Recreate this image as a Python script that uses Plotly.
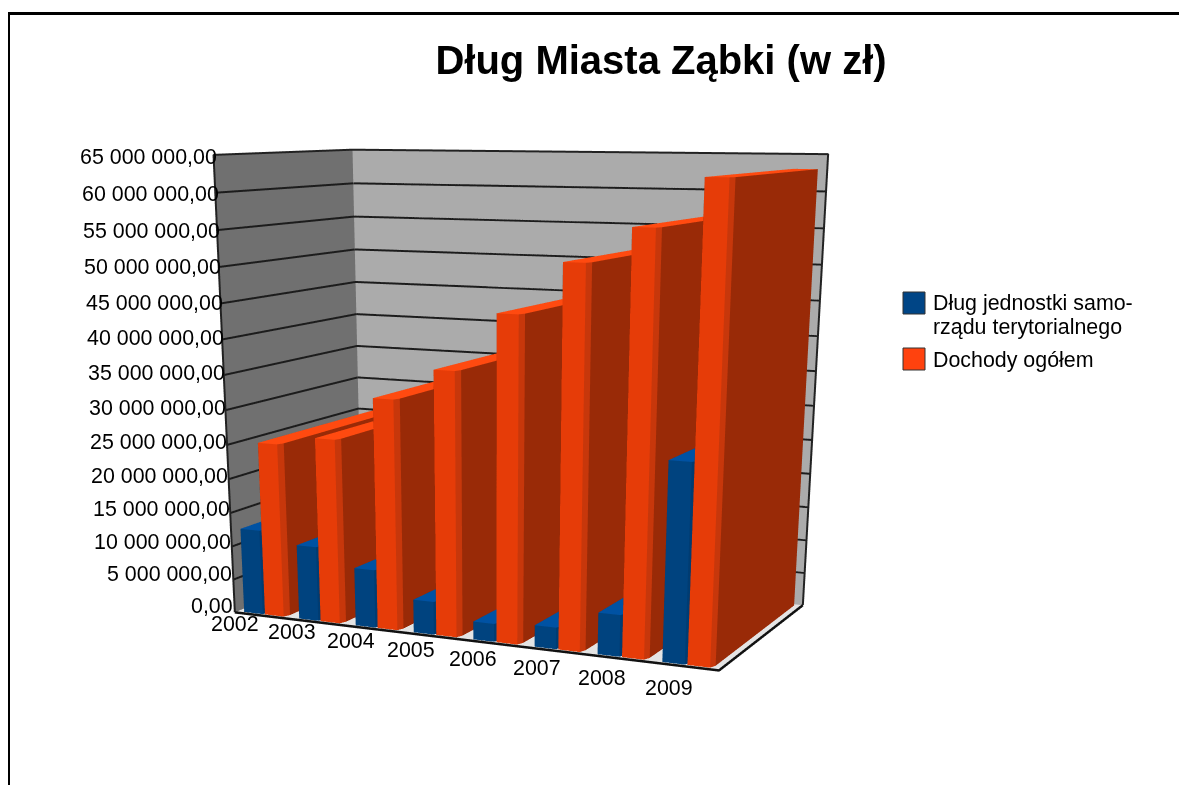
import plotly.graph_objects as go

years = ["2002","2003","2004","2005","2006","2007","2008","2009"]
debt = [12.6e6, 11.0e6, 8.5e6, 4.8e6, 2.6e6, 3.1e6, 5.9e6, 27.5e6]
income = [25.5e6, 26.8e6, 33.0e6, 37.4e6, 45.3e6, 52.2e6, 56.8e6, 63.0e6]
zticks = list(range(0, 65000001, 5000000))
zlabels = [f"{v//1000000} 000 000,00" if v else "0,00" for v in zticks]

# The reference is a taller page cropped by the window; the tall canvas gives its flatter perspective.
FW = 1179
FH = 1600
def PX(x): return (x - 8) / FW
def PY(y): return 1 - (y - 8) / FH

W, Dp = 1.1705, 0.6156
eye = dict(x=1.7747, y=-4.0023, z=0.5915)
center = dict(x=0.0337, y=-0.2304, z=-0.9116)
x0 = 492.3
half = min(x0 - 8, 1187 - x0)
dom = [PX(x0 - half), PX(x0 + half)]

def prism(xa, xb, ya, yb, top, cols, cx, cy):
    pts = [(xa, ya), (xb - cx, ya), (xb, ya + cy), (xb, yb), (xa, yb)]
    n = len(pts)
    X = [p[0] for p in pts] * 2
    Y = [p[1] for p in pts] * 2
    Z = [0] * n + [top] * n
    I, J, K, FC = [], [], [], []
    sidecol = [cols["front"], cols["bevel"], cols["side"], cols["side"], cols["side"]]
    for a in range(n):
        b = (a + 1) % n
        I += [a, a]; J += [b, b + n]; K += [b + n, a + n]; FC += [sidecol[a]] * 2
    for a in range(1, n - 1):
        I.append(n); J.append(n + a); K.append(n + a + 1); FC.append(cols["top"])
    return X, Y, Z, I, J, K, FC

def series(vals, xa, xb, cols, name):
    X, Y, Z, I, J, K, FC = [], [], [], [], [], [], []
    for i, v in enumerate(vals):
        x, y, z, a, b, c, fc = prism(i + xa, i + xb, 0.02, 0.98, v, cols, 0.04, 0.03)
        o = len(X)
        X += x; Y += y; Z += z
        I += [q + o for q in a]; J += [q + o for q in b]; K += [q + o for q in c]; FC += fc
    return go.Mesh3d(x=X, y=Y, z=Z, i=I, j=J, k=K, facecolor=FC, flatshading=True, name=name, hoverinfo="skip",
                     lighting=dict(ambient=1, diffuse=0, specular=0, fresnel=0, roughness=1))

blue = dict(front="#00437f", bevel="#003c72", side="#003566", top="#0052a3")
orange = dict(front="#e63c08", bevel="#c7370b", side="#992a07", top="#ff4a10")
nx = len(years)
zmax = zticks[-1]

fig = go.Figure()
fig.add_trace(series(debt, .12, .5, blue, "Dług jednostki samorządu terytorialnego"))
fig.add_trace(series(income, .5, .88, orange, "Dochody ogółem"))
gx, gy, gz = [], [], []
for v in zticks[1:-1]:
    gx += [0, 0, nx, None]; gy += [0, 1, 1, None]; gz += [v, v, v, None]
fig.add_trace(go.Scatter3d(x=gx, y=gy, z=gz, mode="lines", line=dict(color="#1c1c1c", width=4), hoverinfo="skip", showlegend=False))
fig.add_trace(go.Scatter3d(x=[0, 0, 0, nx, nx], y=[0, 0, 1, 1, 1], z=[0, zmax, zmax, zmax, 0], mode="lines", line=dict(color="#222", width=4), hoverinfo="skip", showlegend=False))
fig.add_trace(go.Scatter3d(x=[0, nx, nx], y=[0, 0, 1], z=[0, 0, 0], mode="lines", line=dict(color="#111", width=5), hoverinfo="skip", showlegend=False))

ann = [dict(x=0, y=0, z=v, text=t, showarrow=False, xanchor="right", xshift=6 * v / zmax, yshift=6 - 8 * v / zmax,
            font=dict(size=21.4, color="black")) for v, t in zip(zticks, zlabels)]
ann += [dict(x=i + .5, y=0, z=0, text=t, showarrow=False, xshift=-27 + i * 1.6, yshift=-8 - i * 1.9,
             font=dict(size=21.4, color="black")) for i, t in enumerate(years)]

def ax(rng, **k):
    return dict(range=rng, showticklabels=False, ticks="", title=dict(text=""), showspikes=False,
                zeroline=False, showline=False, showgrid=False, **k)

fig.update_layout(
    width=FW, height=FH, margin=dict(l=0, r=0, t=0, b=0), paper_bgcolor="white", showlegend=False,
    font=dict(family="Liberation Sans", color="black"),
    title=dict(text="<b>Dług Miasta Ząbki (w zł)</b>", x=PX(661), xanchor="center", y=PY(60), yanchor="middle",
               font=dict(size=40, color="black")),
    scene=dict(domain=dict(x=dom, y=[0, 1]), aspectmode="manual", aspectratio=dict(x=W, y=Dp, z=1),
               camera=dict(eye=eye, center=center, up=dict(x=0, y=0, z=1)),
               xaxis=ax([0, nx], showbackground=True, backgroundcolor="#707070"),
               yaxis=ax([0, 1], showbackground=True, backgroundcolor="#ababab"),
               zaxis=ax([0, zmax], tickvals=zticks, showbackground=True, backgroundcolor="#e4e4e4"),
               annotations=ann),
    shapes=[dict(type="line", xref="paper", yref="paper", x0=PX(8.5), x1=PX(8.5), y0=0, y1=PY(13.5), line=dict(color="black", width=3)),
            dict(type="line", xref="paper", yref="paper", x0=PX(7), x1=1, y0=PY(13.5), y1=PY(13.5), line=dict(color="black", width=3)),
            dict(type="rect", xref="paper", yref="paper", x0=PX(903), x1=PX(925), y0=PY(314), y1=PY(292), fillcolor="#004586", line=dict(color="#333", width=1)),
            dict(type="rect", xref="paper", yref="paper", x0=PX(903), x1=PX(925), y0=PY(370), y1=PY(348), fillcolor="#ff420e", line=dict(color="#333", width=1))],
    annotations=[dict(xref="paper", yref="paper", x=PX(931), y=PY(303), yanchor="middle", xanchor="left", showarrow=False, text="Dług jednostki samo-", font=dict(size=21.4)),
                 dict(xref="paper", yref="paper", x=PX(931), y=PY(327), yanchor="middle", xanchor="left", showarrow=False, text="rządu terytorialnego", font=dict(size=21.4)),
                 dict(xref="paper", yref="paper", x=PX(931), y=PY(360), yanchor="middle", xanchor="left", showarrow=False, text="Dochody ogółem", font=dict(size=21.4))])
fig.write_html("out.html", config=dict(displayModeBar=False))
